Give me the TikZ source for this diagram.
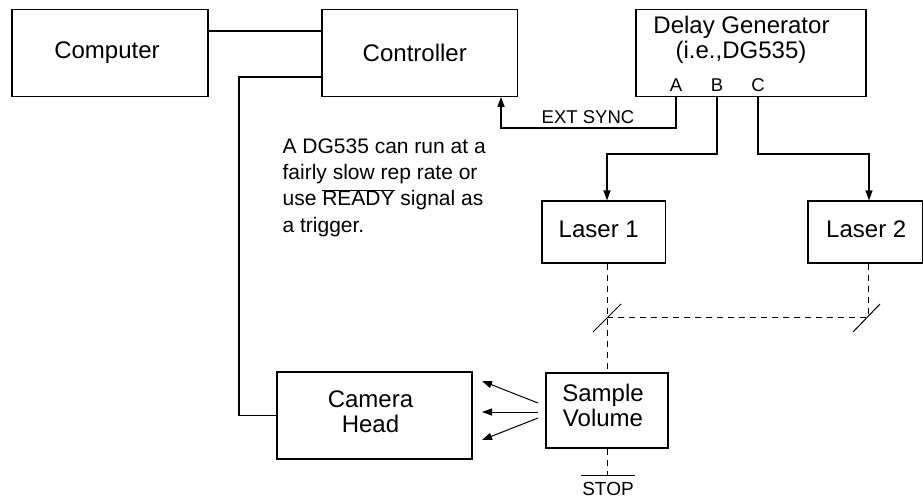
\documentclass[tikz,border=0pt]{standalone}
\usepackage{fontspec}
\setmainfont{Liberation Sans}
\usetikzlibrary{arrows.meta,calc}
\begin{document}
\begin{tikzpicture}[x=1pt,y=-1pt,line width=1.2pt,
  box/.style={draw, inner sep=0pt},
  bigtext/.style={inner sep=0pt, align=center, font=\fontsize{24}{24.5}\selectfont},
  lab/.style={inner sep=0pt, anchor=base, font=\fontsize{18.5}{20}\selectfont},
  arr/.style={-{Triangle[length=10pt,width=7pt]}},
  beam/.style={dash pattern=on 6pt off 5pt, line width=1pt},
  thinline/.style={line width=1pt}]
\useasboundingbox (0,0) rectangle (923,499);

% boxes
\node[box, minimum width=196pt, minimum height=87pt] (comp) at (110,52.75) {};
\node[bigtext] (compt) at ($(comp.center)+(-3,0)$) {Computer};
\node[box, minimum width=195.5pt, minimum height=87pt] (ctrl) at (419.75,52.75) {};
\node[bigtext] (ctrlt) at ($(ctrl.center)+(-5,0)$) {Controller};
\node[box, minimum width=230pt, minimum height=87pt] (dg) at (751,52.75) {};
\node[bigtext, anchor=base] (dgt1) at (741.5,33) {Delay Generator};
\node[bigtext, anchor=base] (dgt2) at (741,58) {(i.e.,DG535)};
\node[lab] (la) at (676,91) {A};
\node[lab] (lb) at (717,91) {B};
\node[lab] (lc) at (758,91) {C};
\node[box, minimum width=123.5pt, minimum height=62pt] (l1) at (603.75,232) {};
\node[bigtext] (l1t) at ($(l1.center)+(-5,-3)$) {Laser 1};
\node[box, minimum width=114.5pt, minimum height=62pt] (l2) at (865.25,232) {};
\node[bigtext] (l2t) at ($(l2.center)+(1,-3)$) {Laser 2};
\node[box, minimum width=195pt, minimum height=87pt] (cam) at (374.5,415.5) {};
\node[bigtext] (camt) at ($(cam.center)+(-4,-4)$) {Camera\\Head};
\node[box, minimum width=122pt, minimum height=75pt] (sv) at (607,410.5) {};
\node[bigtext] (svt) at ($(sv.center)+(-4,-5)$) {Sample\\Volume};

% note
\node[anchor=north west, inner sep=0pt, align=left, font=\fontsize{21}{26.3}\selectfont] (note) at (282,138)
  {A DG535 can run at a\\fairly slow rep rate or\\use \(\overline{\mbox{READY}}\) signal as\\a trigger.};

% wiring
\coordinate (r31) at (0,31);
\draw (comp.east |- r31) -- (ctrl.west |- r31);
\coordinate (r77) at (239,77);
\draw (ctrl.west |- r77) -- (r77) |- (cam.west);

\coordinate (es) at (501,128);
\draw[arr] (dg.south -| la) |- (es) -- (es |- ctrl.south);
\node[lab] (ext) at (588,123) {EXT SYNC};
\coordinate (bb) at (607,154);
\draw[arr] (dg.south -| lb) |- (bb) -- (bb |- l1.north);
\coordinate (bc) at (869,154);
\draw[arr] (dg.south -| lc) |- (bc) -- (bc |- l2.north);

% beams
\coordinate (m1) at (607,317);
\coordinate (m2) at (868,317);
\draw[beam] (l1.south -| m1) -- (m1) -- (sv.north -| m1);
\draw[beam] (l2.south -| m2) -- (m2) -- (m1);
\draw[thinline] ($(m1)+(-14,15)$) -- ($(m1)+(14,-13)$);
\draw[thinline] ($(m2)+(-15,15)$) -- ($(m2)+(12,-13)$);

% stop
\coordinate (st) at (607,475);
\draw[beam] (sv.south -| st) -- (st);
\draw[thinline] ($(st)+(-26,0)$) -- ($(st)+(28,0)$);
\node[inner sep=0pt, anchor=base, font=\fontsize{19}{20}\selectfont] (stop) at (608,495) {STOP};

% scattered light
\coordinate (s1) at (538,403);
\coordinate (s2) at (538,412);
\coordinate (s3) at (538,418);
\coordinate (t1) at (482,381);
\coordinate (t2) at (482,412);
\coordinate (t3) at (482,440);
\draw[arr, thinline] (s1) -- (t1);
\draw[arr, thinline] (s2) -- (t2);
\draw[arr, thinline] (s3) -- (t3);
\end{tikzpicture}
\end{document}
